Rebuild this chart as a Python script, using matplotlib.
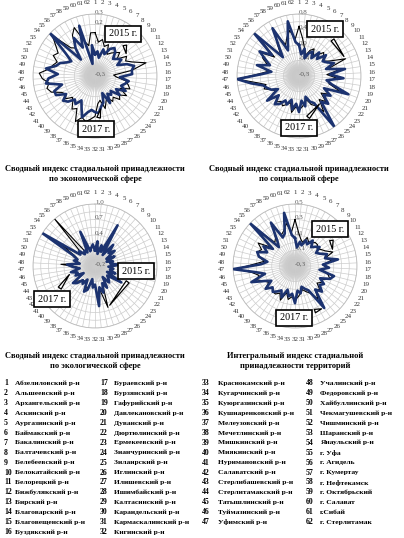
import numpy as np
import matplotlib
matplotlib.use('Agg')
import matplotlib.pyplot as plt
from matplotlib.patches import Circle

plt.rcParams['font.family'] = ['Liberation Serif', 'DejaVu Serif']

n = 62
cats = [str(i) for i in range(1, n + 1)]

# экономическая сфера
econ_2015 = [0.12, 0.03, 0.06, 0.00, 0.03, -0.06, -0.03, 0.00, 0.03, -0.03, 0.06, 0.03, 0.09, 0.21, 0.06, -0.12,
             -0.09, 0.00, 0.03, 0.06, -0.03, 0.06, 0.00, 0.03, -0.03, 0.00, -0.06, -0.03, 0.03, -0.06, -0.03,
             0.09, 0.12, 0.15, 0.12, 0.18, 0.06, 0.09, 0.03, 0.00, 0.06, 0.03, 0.06, 0.15, 0.18, 0.15, 0.21,
             0.24, 0.15, 0.12, 0.09, 0.15, 0.12, 0.18, 0.27, 0.06, 0.03, 0.15, 0.21, 0.06, 0.00, 0.12]
econ_2017 = [-0.09, -0.06, -0.12, -0.03, -0.07, 0.00, 0.03, 0.00, -0.06, -0.03, 0.00, -0.06, 0.03, 0.09, 0.06,
             0.06, -0.06, 0.03, 0.00, -0.03, 0.03, -0.06, 0.00, -0.09, -0.06, -0.09, 0.00, -0.12, -0.03, 0.00,
             0.06, 0.05, 0.03, 0.06, 0.12, 0.03, -0.03, 0.03, 0.00, 0.06, 0.09, 0.03, 0.12, 0.12, 0.03, 0.18,
             0.15, 0.06, 0.18, 0.09, 0.06, 0.00, -0.03, 0.06, 0.30, -0.09, 0.03, 0.12, 0.00, 0.21, -0.18, 0.00]

# социальная сфера
soc_2015 = [0.48, 0.16, -0.08, -0.24, -0.08, 0.00, -0.16, -0.08, 0.08, 0.00, -0.08, 0.08, 0.48, 0.00, 0.24,
            -0.08, 0.16, 0.00, 0.00, 0.32, 0.00, 0.08, -0.08, 0.16, 0.00, 0.32, 0.08, 0.00, -0.16, -0.08, 0.00,
            0.08, 0.00, 0.16, -0.08, 0.00, 0.08, 0.00, 0.08, 0.00, 0.16, -0.08, 0.00, 0.16, 0.08, 0.32, 0.80,
            0.24, 0.00, 0.24, 0.08, 0.24, 0.32, 0.00, 0.64, -0.08, 0.16, 0.48, 0.08, 0.24, 0.40, 0.16]
soc_2017 = [0.00, -0.24, -0.08, -0.32, -0.16, -0.08, -0.24, 0.00, -0.16, 0.08, -0.08, 0.00, 0.16, -0.08, 0.40,
            0.00, 0.35, -0.08, 0.08, 0.56, -0.08, 0.16, 0.00, 0.24, 0.08, 0.80, 0.00, -0.08, -0.24, 0.00, -0.16,
            0.13, -0.08, 0.08, -0.16, 0.00, -0.08, 0.08, 0.16, -0.08, 0.24, -0.16, 0.00, 0.08, 0.16, 0.45, 0.80,
            0.16, -0.08, 0.32, 0.00, 0.16, 0.40, 0.08, 0.80, -0.16, 0.08, 0.61, -0.08, 0.16, 0.64, 0.08]

# экологическая сфера
eco_2015 = [0.16, 0.22, 0.10, 0.16, 0.16, 0.40, 0.10, 0.28, 0.16, 0.22, 0.10, 0.16, 0.10, 0.16, 0.10, 0.22,
            0.10, 0.16, 0.10, 0.16, 0.10, 0.28, 0.10, 0.16, 0.16, 0.10, 0.22, 0.16, 0.64, 0.28, 0.40, 0.16,
            0.16, 0.10, 0.22, 0.28, 0.10, 0.16, 0.16, 0.22, 0.28, 0.10, 0.16, 0.16, 0.22, 0.10, 0.16, 0.46,
            0.10, 0.16, 0.16, 0.22, 0.52, 0.16, 0.16, 1.00, 0.16, 0.10, 0.28, 0.16, 0.16, 0.16]
eco_2017 = [0.10, 0.28, 0.04, 0.22, 0.10, 0.70, 0.06, 0.34, 0.16, 0.28, 0.06, 0.22, 0.04, 0.16, 0.10, 0.28,
            0.06, 0.16, 0.10, 0.22, 0.06, 0.40, 0.10, 0.16, 0.22, 0.06, 0.28, 0.16, 0.34, 0.22, 0.58, 0.16,
            0.22, 0.06, 0.28, 0.34, 0.10, 0.22, 0.16, 0.28, 0.34, 0.06, 0.22, 0.16, 0.28, 0.10, 0.22, 0.34,
            0.10, 0.22, 0.16, 0.28, 1.00, 0.16, 0.22, 0.10, 0.16, 0.10, 0.52, 0.10, 0.16, 0.22]

# интегральный индекс
int_2015 = [0.30, 0.14, 0.06, 0.02, 0.10, 0.06, 0.06, 0.10, 0.10, 0.06, 0.10, 0.14, 0.22, 0.10, 0.18, 0.06,
            0.10, 0.06, 0.14, 0.18, 0.10, 0.10, 0.06, 0.14, 0.10, 0.22, 0.10, 0.06, 0.02, 0.06, 0.10, 0.14,
            0.10, 0.14, 0.06, 0.18, 0.10, 0.14, 0.14, 0.10, 0.18, 0.10, 0.14, 0.22, 0.18, 0.26, 0.46, 0.22,
            0.10, 0.18, 0.22, 0.18, 0.26, 0.10, 0.42, 0.10, 0.14, 0.30, 0.14, 0.18, 0.26, 0.14]
int_2017 = [0.06, -0.06, 0.02, -0.02, 0.06, 0.02, 0.10, 0.02, 0.06, 0.10, 0.02, 0.06, 0.14, 0.10, 0.26, 0.06,
            0.14, 0.02, 0.22, 0.18, 0.06, 0.14, 0.10, 0.18, 0.10, 0.36, 0.06, 0.02, -0.02, 0.06, 0.02, 0.18,
            0.06, 0.10, 0.02, 0.14, 0.06, 0.10, 0.14, 0.10, 0.18, 0.06, 0.14, 0.30, 0.10, 0.22, 0.50, 0.14,
            0.06, 0.18, 0.22, 0.10, 0.18, 0.06, 0.50, 0.02, 0.10, 0.34, 0.10, 0.14, 0.40, 0.10]

titles = ['Сводный индекс стадиальной принадлежности\nпо экономической сфере',
          'Сводный индекс стадиальной принадлежности\nпо социальной сфере',
          'Сводный индекс стадиальной принадлежности\nпо экологической сфере',
          'Интегральный индекс стадиальной\nпринадлежности территорий']

districts = ['Абзелиловский р-н', 'Альшеевский р-н', 'Архангельский р-н', 'Аскинский р-н', 'Аургазинский р-н',
             'Баймакский р-н', 'Бакалинский р-н', 'Балтачевский р-н', 'Белебеевский р-н', 'Белокатайский р-н',
             'Белорецкий р-н', 'Бижбулякский р-н', 'Бирский р-н', 'Благоварский р-н', 'Благовещенский р-н',
             'Буздякский р-н', 'Бураевский р-н', 'Бурзянский р-н', 'Гафурийский р-н', 'Давлекановский р-н',
             'Дуванский р-н', 'Дюртюлинский р-н', 'Ермекеевский р-н', 'Зианчуринский р-н', 'Зилаирский р-н',
             'Иглинский р-н', 'Илишевский р-н', 'Ишимбайский р-н', 'Калтасинский р-н', 'Караидельский р-н',
             'Кармаскалинский р-н', 'Кигинский р-н', 'Краснокамский р-н', 'Кугарчинский р-н',
             'Куюргазинский р-н', 'Кушнаренковский р-н', 'Мелеузовский р-н', 'Мечетлинский р-н',
             'Мишкинский р-н', 'Миякинский р-н', 'Нуримановский р-н', 'Салаватский р-н',
             'Стерлибашевский р-н', 'Стерлитамакский р-н', 'Татышлинский р-н', 'Туймазинский р-н',
             'Уфимский р-н', 'Учалинский р-н', 'Федоровский р-н', 'Хайбуллинский р-н', 'Чекмагушевский р-н',
             'Чишминский р-н', 'Шаранский р-н', 'Янаульский р-н', 'г. Уфа', 'г. Агидель', 'г. Кумертау',
             'г. Нефтекамск', 'г. Октябрьский', 'г. Салават', 'г.Сибай', 'г. Стерлитамак']

W, H = 404, 538
fig = plt.figure(figsize=(W / 100, H / 100), dpi=100)
theta = np.linspace(0, 2 * np.pi, n, endpoint=False)
blue = '#1c3370'


def radar(cx, cy, rad, v15, v17, rticks, rlabels, title, ty, i15, box15, i17, box17):
    ax = fig.add_axes([(cx - rad) / W, 1 - (cy + rad) / H, 2 * rad / W, 2 * rad / H], projection='polar')
    ax.set_theta_zero_location('N')
    ax.set_theta_direction(-1)
    ax.set_ylim(rticks[0], rticks[-1])
    ax.set_xticks(theta)
    ax.set_xticklabels(cats, fontsize=5, color='#333333')
    ax.tick_params(axis='x', pad=-2.2)
    ax.set_yticks(rticks)
    ax.set_yticklabels(rlabels, fontsize=5, color='#555555')
    ax.set_rlabel_position(0)
    ax.grid(color='#cccccc', lw=0.5)
    ax.spines['polar'].set_color('#bbbbbb')
    ax.spines['polar'].set_linewidth(0.6)
    for k in range(12):
        ax.add_patch(Circle((0.5, 0.5), 0.13 * (k + 1) / 12, transform=ax.transAxes,
                            fc='#808080', ec='none', alpha=0.08, zorder=1))
    th = np.append(theta, theta[0])
    ax.plot(th, np.append(v15, v15[0]), color='black', lw=0.8, zorder=3)
    ax.plot(th, np.append(v17, v17[0]), color=blue, lw=1.9, zorder=4)
    bbox = dict(boxstyle='square,pad=0.35', fc='white', ec='black', lw=1.2)
    arrow = dict(arrowstyle='wedge,tail_width=0.35', fc='white', ec='black', lw=0.9)
    ax.annotate('2015 г.', xy=(theta[i15], v15[i15]), xytext=(box15[0], H - box15[1]),
                textcoords='figure pixels', ha='center', va='center', fontsize=7.3,
                bbox=bbox, arrowprops=arrow, zorder=6)
    ax.annotate('2017 г.', xy=(theta[i17], v17[i17]), xytext=(box17[0], H - box17[1]),
                textcoords='figure pixels', ha='center', va='center', fontsize=7.3,
                bbox=bbox, arrowprops=arrow, zorder=6)
    fig.text(cx / W, 1 - ty / H, title, ha='center', va='center', fontsize=6.0,
             fontweight='bold', linespacing=1.35)


radar(95, 76, 62, econ_2015, econ_2017, [-0.3, -0.2, -0.1, 0, 0.1, 0.2, 0.3],
      ['-0,3', '', '', '0', '', '0,2', '0,3'], titles[0], 174, 10, (123, 34), 29, (96, 129))
radar(299, 76, 62, soc_2015, soc_2017, list(np.linspace(-0.8, 0.8, 9)),
      ['-0,8', '', '-0,4', '', '0,0', '', '0,4', '', '0,8'], titles[1], 174, 12, (325, 29), 24, (299, 128))
radar(95, 266, 62, eco_2015, eco_2017, list(np.linspace(-0.2, 1.0, 9)),
      ['-0,2', '', '0,1', '', '0,4', '', '0,7', '', '1,0'], titles[2], 361, 28, (136, 271), 44, (52, 299))
radar(295, 266, 62, int_2015, int_2017, list(np.linspace(-0.3, 0.5, 9)),
      ['-0,3', '', '-0,1', '', '0,1', '', '0,3', '', '0,5'], titles[3], 361, 12, (330, 229), 25, (294, 318))

# список районов
cols = [(4, 15), (100, 114), (202, 218), (306, 320)]
for i, name in enumerate(districts):
    c, r = divmod(i, 16) if i < 32 else (2 + (i - 32) // 15, (i - 32) % 15)
    y = 383 + r * 9.95
    fig.text(cols[c][0] / W, 1 - y / H, str(i + 1), fontsize=5.6, fontweight='bold', va='center')
    fig.text(cols[c][1] / W, 1 - y / H, name, fontsize=5.4, fontweight='bold', va='center')

fig.savefig('out.png', dpi=100)
